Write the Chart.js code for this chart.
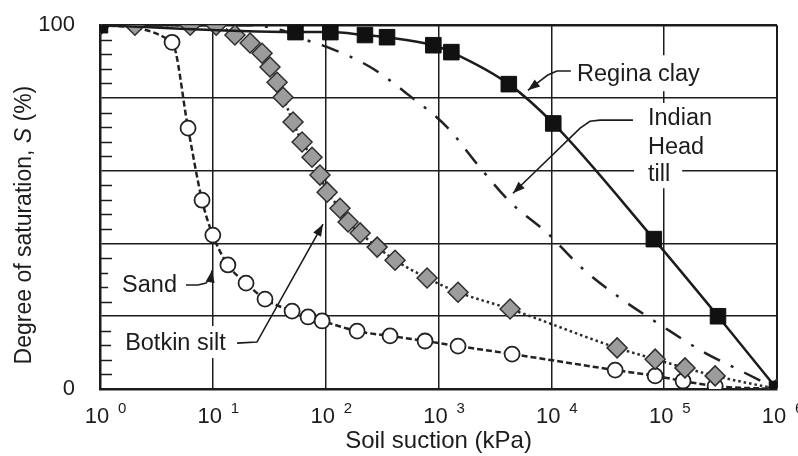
<!DOCTYPE html>
<html>
<head>
<meta charset="utf-8">
<script src="https://cdn.jsdelivr.net/npm/chart.js@4.4.1/dist/chart.umd.min.js"></script>
<style>
html, body { margin: 0; padding: 0; background: #fff; }
canvas { display: block; }
</style>
</head>
<body>
<canvas id="chart" width="798" height="456"></canvas>
<script>
// Degree of saturation vs soil suction for four soils
const xExponents = [0, 1, 2, 3, 4, 5, 6];
const yLabelled = [0, 100];

const reginaSuction = [1, 54, 110, 223, 350, 900, 1300, 4200, 10400, 81000, 300000, 1000000];
const reginaSat = [100, 98.1, 98.1, 97.3, 96.7, 94.5, 92.6, 83.8, 73, 41.2, 20, 0];

const botkinSuction = [1, 2.04, 6.3, 10.7, 15.7, 21.4, 27.3, 32.1, 37.1, 41.9, 51.4, 61.8, 75.7, 89, 103, 134, 158, 202, 286, 412, 792, 1490, 4310, 38300, 83200, 153000, 283000, 1000000];
const botkinSat = [100, 100, 100, 100, 97.3, 95.1, 92.3, 88.5, 84.3, 80.2, 73.4, 67.9, 63.7, 58.8, 54.1, 49.7, 45.9, 42.9, 39, 35.4, 30.5, 26.6, 22, 11.3, 8.2, 5.8, 3.6, 0];

const sandSuction = [1, 4.35, 6.03, 8.02, 10, 13.6, 19.7, 29, 50.4, 69.8, 93, 190, 372, 760, 1490, 4490, 36800, 83200, 147000, 283000, 1000000];
const sandSat = [100, 95.3, 71.7, 51.9, 42.3, 34.1, 29.1, 24.7, 21.4, 19.8, 18.7, 15.9, 14.6, 13.2, 11.8, 9.6, 5.2, 3.6, 2.2, 0.8, 0];

const tillSuction = [1, 20, 40, 66, 103, 248, 560, 1190, 2244, 4310, 9180, 18750, 40700, 96000, 222000, 522000, 1000000];
const tillSat = [100, 100, 98.7, 96, 94, 88.5, 80.5, 72, 61.5, 51.4, 42.9, 33.2, 25, 17.3, 10.2, 4.4, 0];

// labels with leader arrows, positions in (kPa, %)
const notes = [
  { lines: ['Regina clay'], x: 16900, ys: [86.8], half: 18, path: [[14900, 87.4], [11200, 87.4], [9300, 86.3], [7900, 84.6], [6200, 82.1]] },
  { lines: ['Indian', 'Head', 'till'], x: 71900, ys: [74.5, 66.6, 59.3], half: 15, path: [[52900, 73.9], [27000, 73.9], [22000, 73.6], [18000, 71.7], [4570, 53.8]] },
  { lines: ['Sand'], x: 1.57, ys: [28.6], half: 14, path: [[5.78, 28.6], [7.39, 28.6], [8.69, 29.1], [9.63, 30.8], [9.84, 32.6]] },
  { lines: ['Botkin silt'], x: 1.67, ys: [12.9], half: 16, path: [[16.4, 12.6], [24.6, 12.9], [94.7, 45.3]] }
];

const yTitle = [['Degree of saturation, ', false], ['S', true], [' (%)', false]];

const FONT = '"Liberation Sans", Arial, Helvetica, sans-serif';
const INK = '#1c1c1c';

function pts(xs, ys) {
  return xs.map((x, i) => ({ x: x, y: ys[i] }));
}

const annotations = {
  id: 'annotations',
  beforeDatasetsDraw(chart) {
    const ctx = chart.ctx;
    const xs = chart.scales.x, ys = chart.scales.y;
    const ca = chart.chartArea;
    ctx.save();

    // minor ticks on the left axis
    ctx.strokeStyle = INK;
    ctx.lineWidth = 1.5;
    ys.ticks.forEach(t => {
      if (t.value % 20 === 0) return;
      const py = Math.round(ys.getPixelForValue(t.value)) + 0.5;
      ctx.beginPath();
      ctx.moveTo(ca.left, py);
      ctx.lineTo(ca.left + 12, py);
      ctx.stroke();
    });

    ctx.font = '23.5px ' + FONT;
    ctx.textBaseline = 'middle';
    ctx.textAlign = 'left';
    notes.forEach(n => {
      const tx = xs.getPixelForValue(n.x);
      // white boxes
      ctx.fillStyle = '#fff';
      n.lines.forEach((s, i) => {
        const py = ys.getPixelForValue(n.ys[i]);
        const w = ctx.measureText(s).width;
        ctx.fillRect(tx - 14, py - n.half, w + 26, n.half * 2);
      });
      ctx.fillStyle = INK;
      n.lines.forEach((s, i) => {
        ctx.fillText(s, tx, ys.getPixelForValue(n.ys[i]) + 1);
      });
      // leader line
      const p = n.path.map(q => [xs.getPixelForValue(q[0]), ys.getPixelForValue(q[1])]);
      ctx.strokeStyle = INK;
      ctx.lineWidth = 1.6;
      ctx.beginPath();
      ctx.moveTo(p[0][0], p[0][1]);
      for (let i = 1; i < p.length; i++) ctx.lineTo(p[i][0], p[i][1]);
      ctx.stroke();
      // arrow head
      const a = p[p.length - 2], b = p[p.length - 1];
      const ang = Math.atan2(b[1] - a[1], b[0] - a[0]);
      const L = 12, W = 4.5;
      ctx.beginPath();
      ctx.moveTo(b[0], b[1]);
      ctx.lineTo(b[0] - L * Math.cos(ang) + W * Math.sin(ang), b[1] - L * Math.sin(ang) - W * Math.cos(ang));
      ctx.lineTo(b[0] - L * Math.cos(ang) - W * Math.sin(ang), b[1] - L * Math.sin(ang) + W * Math.cos(ang));
      ctx.closePath();
      ctx.fill();
    });
    ctx.restore();
  },
  afterDraw(chart) {
    const ctx = chart.ctx;
    const xs = chart.scales.x;
    const ca = chart.chartArea;
    ctx.save();
    ctx.fillStyle = INK;
    // exponents of the x tick labels
    ctx.font = '15px ' + FONT;
    ctx.textAlign = 'left';
    ctx.textBaseline = 'middle';
    xExponents.forEach(e => {
      ctx.fillText(String(e), xs.getPixelForValue(Math.pow(10, e)) + 18, xs.top + 20);
    });
    // y axis title with italic S
    let total = 0;
    yTitle.forEach(([s, it]) => {
      ctx.font = (it ? 'italic ' : '') + '23px ' + FONT;
      total += ctx.measureText(s).width;
    });
    const cy = (ca.top + ca.bottom) / 2 + 18;
    ctx.translate(31, cy + total / 2);
    ctx.rotate(-Math.PI / 2);
    ctx.textBaseline = 'alphabetic';
    let off = 0;
    yTitle.forEach(([s, it]) => {
      ctx.font = (it ? 'italic ' : '') + '23px ' + FONT;
      ctx.fillText(s, off, 0);
      off += ctx.measureText(s).width;
    });
    ctx.restore();
  }
};

const ctx = document.getElementById('chart').getContext('2d');

new Chart(ctx, {
  type: 'line',
  data: {
    datasets: [
      {
        label: 'Regina clay',
        data: pts(reginaSuction, reginaSat),
        borderColor: INK,
        borderWidth: 2.5,
        pointStyle: 'rect',
        pointRadius: 11,
        pointBackgroundColor: '#111',
        pointBorderColor: '#111',
        pointBorderWidth: 1,
        cubicInterpolationMode: 'monotone'
      },
      {
        label: 'Botkin silt',
        data: pts(botkinSuction, botkinSat),
        borderColor: '#2a2a2a',
        borderWidth: 2.5,
        borderDash: [2.5, 3],
        pointStyle: 'rectRot',
        pointRadius: 10,
        pointBackgroundColor: '#9c9c9c',
        pointBorderColor: '#2e2e2e',
        pointBorderWidth: 1.5,
        cubicInterpolationMode: 'monotone'
      },
      {
        label: 'Sand',
        data: pts(sandSuction, sandSat),
        borderColor: '#222',
        borderWidth: 2.5,
        borderDash: [6, 3],
        pointStyle: 'circle',
        pointRadius: 7.5,
        pointBackgroundColor: '#fff',
        pointBorderColor: '#222',
        pointBorderWidth: 1.8,
        cubicInterpolationMode: 'monotone'
      },
      {
        label: 'Indian Head till',
        data: pts(tillSuction, tillSat),
        borderColor: '#222',
        borderWidth: 2.5,
        borderDash: [18, 12, 3, 12],
        pointRadius: 0,
        cubicInterpolationMode: 'monotone'
      }
    ]
  },
  options: {
    responsive: false,
    animation: false,
    devicePixelRatio: 1,
    layout: { padding: { top: 25, right: 21, left: 0, bottom: 0 } },
    plugins: {
      legend: { display: false },
      tooltip: { enabled: false }
    },
    scales: {
      x: {
        type: 'logarithmic',
        min: 1,
        max: 1000000,
        afterBuildTicks: s => { s.ticks = xExponents.map(e => ({ value: Math.pow(10, e), major: true })); },
        afterFit: s => { s.height = 67; },
        grid: {
          color: INK,
          lineWidth: c => (c.tick && c.tick.value === 1000000 ? 2 : 1.5),
          drawTicks: true,
          tickLength: 7,
          tickColor: 'rgba(0,0,0,0)'
        },
        border: { color: INK, width: 2.5 },
        ticks: {
          autoSkip: false,
          maxRotation: 0,
          padding: 8,
          labelOffset: -3,
          color: INK,
          font: { size: 22, family: FONT },
          callback: () => '10'
        },
        title: {
          display: true,
          text: 'Soil suction (kPa)',
          color: INK,
          font: { size: 24, family: FONT },
          padding: { top: 0, bottom: 0 }
        }
      },
      y: {
        min: 0,
        max: 100,
        afterFit: s => { s.width = 100; },
        grid: {
          color: c => (c.tick && c.tick.value % 20 === 0 ? INK : 'rgba(0,0,0,0)'),
          lineWidth: c => (c.tick && c.tick.value === 100 ? 2.5 : 1.5),
          drawTicks: true,
          tickLength: 13,
          tickColor: 'rgba(0,0,0,0)'
        },
        border: { color: INK, width: 2.5 },
        ticks: {
          stepSize: 4,
          autoSkip: false,
          padding: 12,
          color: INK,
          font: { size: 22, family: FONT },
          callback: v => (yLabelled.includes(v) ? String(v) : '')
        }
      }
    }
  },
  plugins: [annotations]
});
</script>
</body>
</html>
